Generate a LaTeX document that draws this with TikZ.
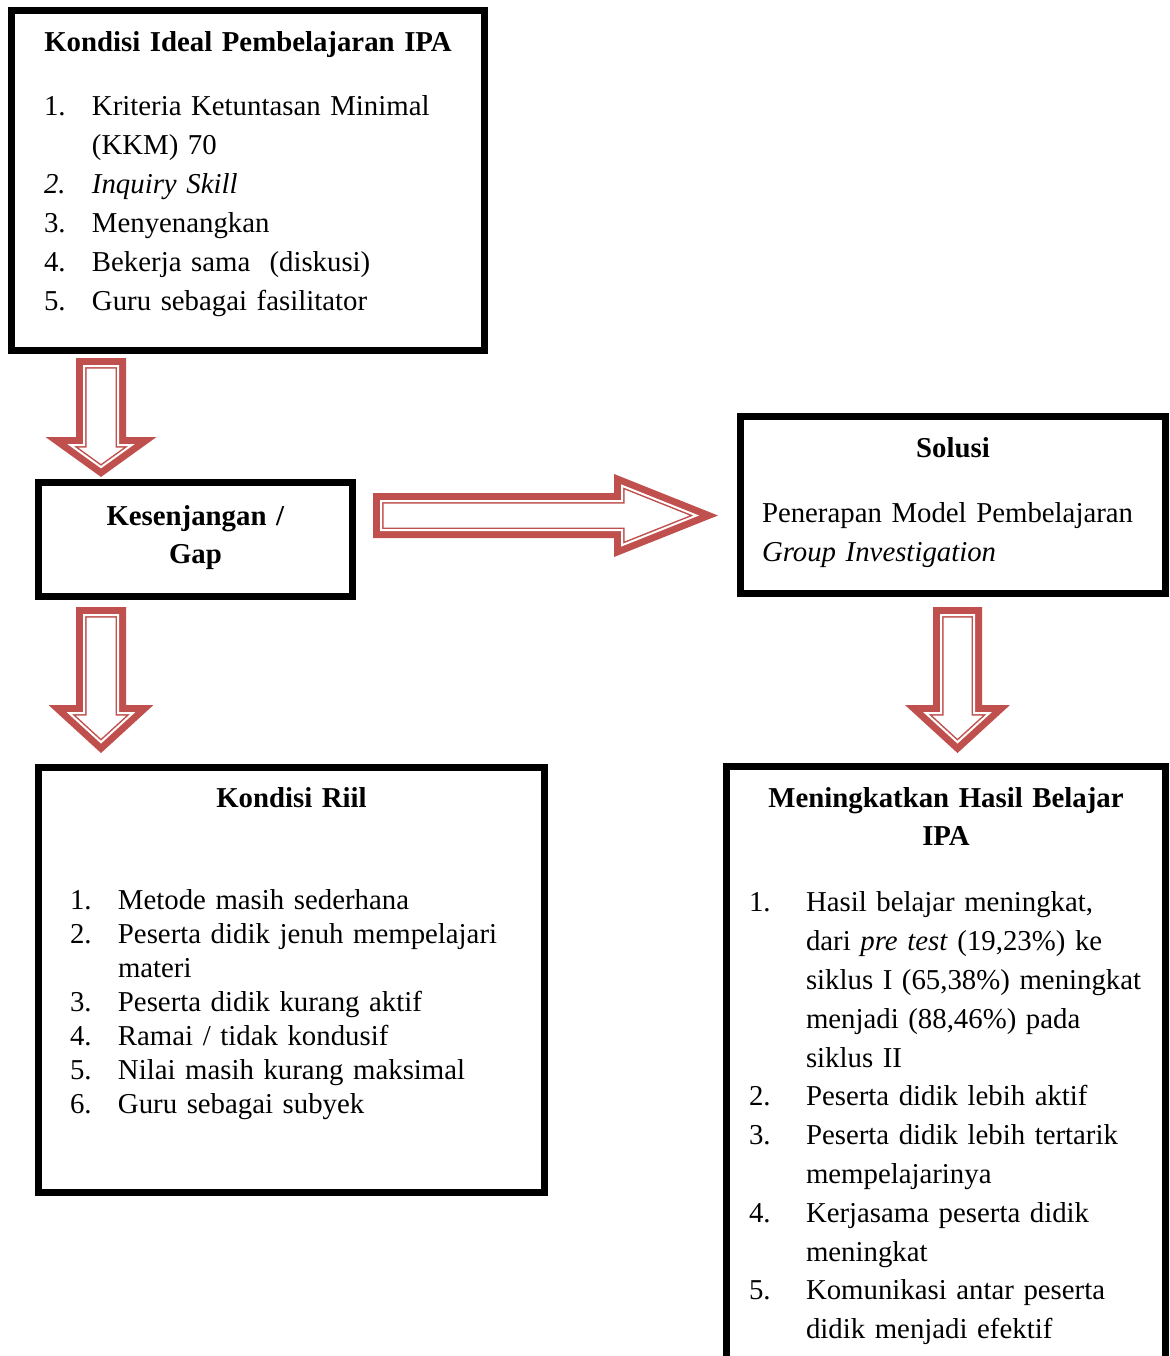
\documentclass[tikz,border=0pt]{standalone}
\usepackage{fontspec}
\setmainfont{Liberation Serif}
\usepackage{tikz}
\usetikzlibrary{calc}
\definecolor{arrowred}{HTML}{C0504D}
\newcommand\entry[3]{\par\hangindent=#1\hangafter=1\noindent\makebox[#1][l]{#2}#3}

\begin{document}
\begin{tikzpicture}[x=0.5pt,y=-0.5pt,
    panel/.style={draw, line width=3.5pt, outer sep=0pt, inner ysep=0pt, align=left, anchor=base west},
    hollow/.style={draw=arrowred, line width=0.75pt, double=white, double distance=1pt, fill=white,
        line join=miter, preaction={draw=arrowred, line width=8pt, line join=miter}},
    fatarrow/.style n args={3}{to path={
        let \p1=(\tikztostart), \p2=(\tikztotarget), \n1={atan2(\y2-\y1,\x2-\x1)} in
        ($(\p1)+(\n1+90:#1)$) -- ($(\p2)+(\n1+180:#3)+(\n1+90:#1)$)
        -- ($(\p2)+(\n1+180:#3)+(\n1+90:#2)$) -- (\p2)
        -- ($(\p2)+(\n1+180:#3)+(\n1-90:#2)$) -- ($(\p2)+(\n1+180:#3)+(\n1-90:#1)$)
        -- ($(\p1)+(\n1-90:#1)$) -- cycle}}]
    \useasboundingbox (0,0) rectangle (1169,1356);

    % boxes
    \node[panel, font=\fontsize{14.4pt}{19.5pt}\selectfont, text width=204pt, inner xsep=16.25pt,
          text height=20.25pt, text depth=149.75pt] (ideal) at (11.5,51) {%
        \rightskip=-12pt plus 1fil
        \makebox[\linewidth][c]{\textbf{Kondisi Ideal Pembelajaran IPA}}\par\vspace{12.5pt}
        \entry{24pt}{1.}{Kriteria Ketuntasan Minimal\newline (KKM) 70}
        \entry{24pt}{\textit{2.}}{\textit{Inquiry Skill}}
        \entry{24pt}{3.}{Menyenangkan}
        \entry{24pt}{4.}{Bekerja sama\ \ (diskusi)}
        \entry{24pt}{5.}{Guru sebagai fasilitator}\par};

    \node[panel, font=\fontsize{14.4pt}{19pt}\selectfont, text width=147pt, inner xsep=5pt,
          text height=21.25pt, text depth=35.75pt] (gap) at (38.5,525) {%
        \makebox[\linewidth][c]{\textbf{Kesenjangan /}}\par
        \makebox[\linewidth][c]{\textbf{Gap}}\par};

    \node[panel, font=\fontsize{14.4pt}{19.5pt}\selectfont, text width=191pt, inner xsep=10.75pt,
          text height=20.25pt, text depth=68.25pt] (solusi) at (740.5,457) {%
        \rightskip=-12pt plus 1fil
        \makebox[\linewidth][c]{\textbf{Solusi}}\par\vspace{13pt}
        Penerapan Model Pembelajaran\newline \textit{Group Investigation}\par};

    \node[panel, font=\fontsize{14.4pt}{17pt}\selectfont, text width=221.5pt, inner xsep=15.75pt,
          text height=19.75pt, text depth=192.75pt] (riil) at (38.5,807) {%
        \rightskip=-12pt plus 1fil
        \makebox[\linewidth][c]{\textbf{Kondisi Riil}}\par\vspace{34pt}
        \entry{24pt}{1.}{Metode masih sederhana}
        \entry{24pt}{2.}{Peserta didik jenuh mempelajari\newline materi}
        \entry{24pt}{3.}{Peserta didik kurang aktif}
        \entry{24pt}{4.}{Ramai / tidak kondusif}
        \entry{24pt}{5.}{Nilai masih kurang maksimal}
        \entry{24pt}{6.}{Guru sebagai subyek}\par};

    \node[panel, font=\fontsize{14.4pt}{19.4pt}\selectfont, text width=197pt, inner xsep=11.25pt,
          text height=20.25pt, text depth=291.5pt] (hasil) at (726.5,807) {%
        \rightskip=-12pt plus 1fil
        \makebox[\linewidth][c]{\textbf{Meningkatkan Hasil Belajar}}\par
        \makebox[\linewidth][c]{\textbf{IPA}}\par\vspace{13.6pt}
        \entry{28.5pt}{1.}{Hasil belajar meningkat,\newline dari \textit{pre test} (19,23\%) ke\newline
            siklus I (65,38\%) meningkat\newline menjadi (88,46\%) pada\newline siklus II}
        \entry{28.5pt}{2.}{Peserta didik lebih aktif}
        \entry{28.5pt}{3.}{Peserta didik lebih tertarik\newline mempelajarinya}
        \entry{28.5pt}{4.}{Kerjasama peserta didik\newline meningkat}
        \entry{28.5pt}{5.}{Komunikasi antar peserta\newline didik menjadi efektif}\par};

    % block arrows
    \draw[hollow] ($(ideal.south west)+(89.5,15.5)$) to[fatarrow={8.5pt}{15.35pt}{11.05pt}] ($(gap.north west)+(62.5,-15.4)$);
    \draw[hollow] ($(gap.south west)+(62.5,18.5)$) to[fatarrow={8.5pt}{15.95pt}{14.6pt}] ($(riil.north west)+(62.5,-25.3)$);
    \draw[hollow] ($(gap.north east)+(28.5,33)$) to[fatarrow={7.25pt}{14.85pt}{37.2pt}] ($(solusi.north west)+(-44.1,99)$);
    \draw[hollow] ($(solusi.south west)+(217,21.5)$) to[fatarrow={8.25pt}{15.95pt}{14.6pt}] ($(hasil.north west)+(231,-24.3)$);
\end{tikzpicture}
\end{document}
